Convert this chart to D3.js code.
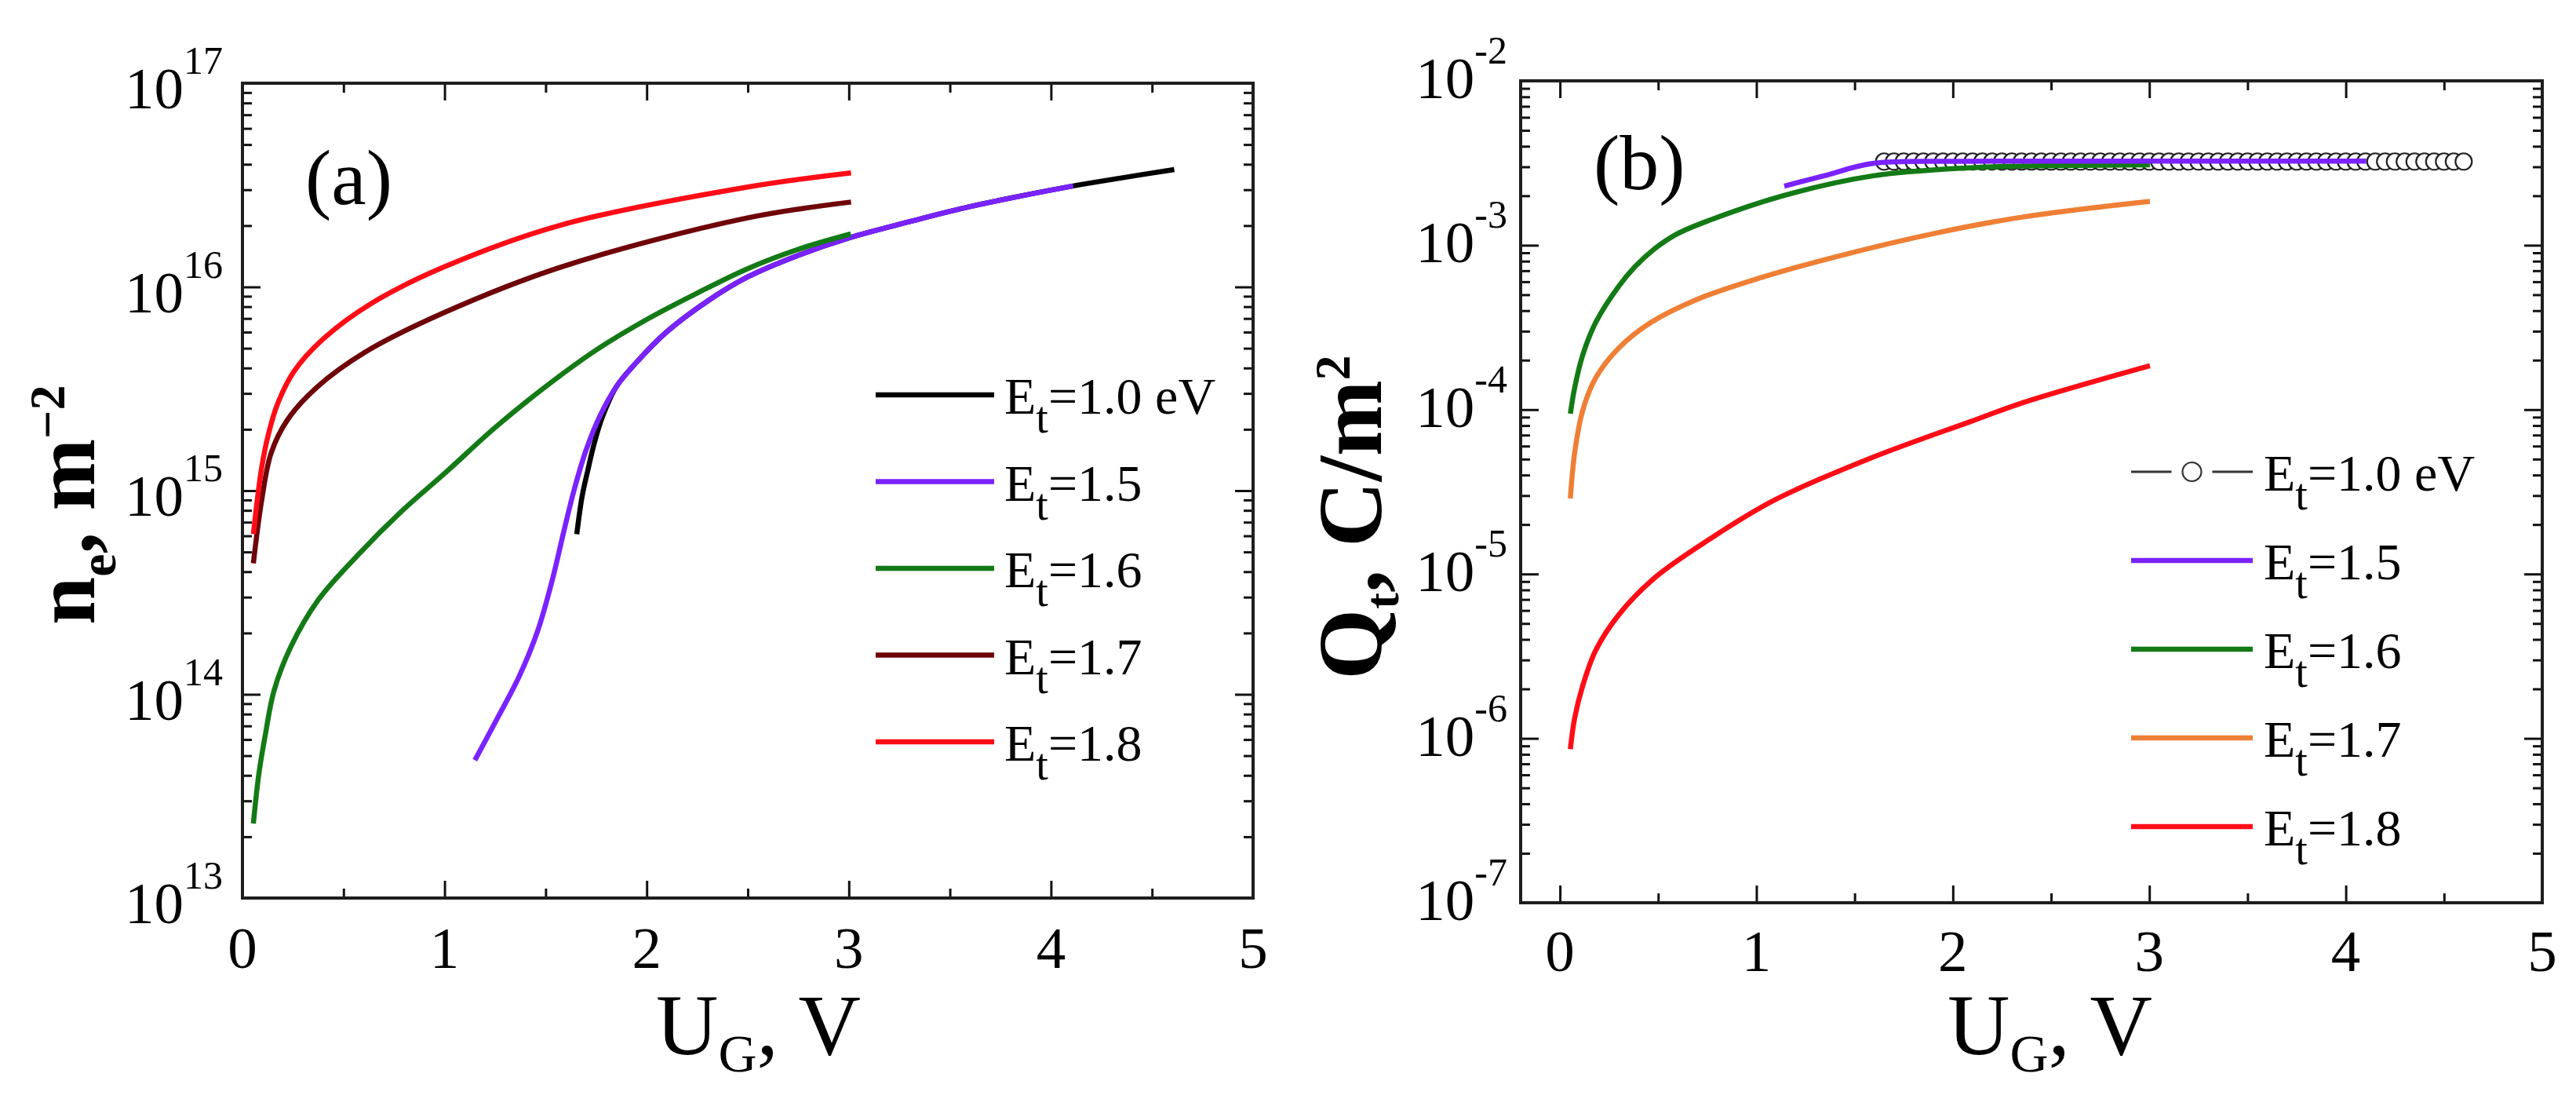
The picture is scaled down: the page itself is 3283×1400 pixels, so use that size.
<!DOCTYPE html>
<html>
<head>
<meta charset="utf-8">
<script src="https://cdn.jsdelivr.net/npm/d3@7"></script>
<style>
  html, body { margin: 0; padding: 0; background: #fff; }
  svg { display: block; font-family: "Liberation Serif", "Times New Roman", serif; }
</style>
</head>
<body>
<svg id="fig" width="3283" height="1400"></svg>
<script>
// ---- tick labels ----
const xTicks = [0, 1, 2, 3, 4, 5];
const xMinorTicks = [0.5, 1.5, 2.5, 3.5, 4.5];
const yExpA = [13, 14, 15, 16, 17];
const yExpB = [-7, -6, -5, -4, -3, -2];
const legendText = ["=1.0 eV", "=1.5", "=1.6", "=1.7", "=1.8"];

// ---- panel (a): n_e vs U_G ----
const ugA10 = [1.654, 1.68, 1.708, 1.74, 1.78, 1.85, 1.95, 2.1, 2.3, 2.5, 2.75, 3.0, 3.3, 3.6, 4.11, 4.35, 4.61];
const neA10 = [6.11e14, 9.33e14, 1.25e15, 1.70e15, 2.29e15, 3.24e15, 4.27e15, 6.03e15, 8.51e15, 1.12e16, 1.43e16, 1.74e16, 2.09e16, 2.48e16, 3.13e16, 3.43e16, 3.77e16];

const ugA15 = [1.15, 1.26, 1.37, 1.46, 1.53, 1.59, 1.64, 1.70, 1.77, 1.85, 1.95, 2.1, 2.3, 2.5, 2.75, 3.0, 3.3, 3.6, 4.11];
const neA15 = [4.75e13, 7.59e13, 1.23e14, 2.04e14, 3.55e14, 6.31e14, 1.0e15, 1.58e15, 2.34e15, 3.24e15, 4.27e15, 6.03e15, 8.51e15, 1.12e16, 1.43e16, 1.74e16, 2.09e16, 2.48e16, 3.13e16];

const ugA16 = [0.054, 0.081, 0.115, 0.156, 0.238, 0.373, 0.578, 0.782, 1.014, 1.25, 1.5, 1.75, 2.0, 2.25, 2.5, 2.75, 3.01];
const neA16 = [2.32e13, 4.06e13, 6.49e13, 1.04e14, 1.70e14, 2.89e14, 4.91e14, 7.83e14, 1.25e15, 2.04e15, 3.24e15, 4.90e15, 6.92e15, 9.33e15, 1.23e16, 1.53e16, 1.82e16];

const ugA17 = [0.054, 0.094, 0.142, 0.222, 0.367, 0.609, 0.995, 1.574, 2.488, 3.011];
const neA17 = [4.40e14, 8.83e14, 1.53e15, 2.22e15, 3.21e15, 4.80e15, 7.46e15, 1.25e16, 2.17e16, 2.61e16];

const ugA18 = [0.054, 0.094, 0.126, 0.174, 0.255, 0.40, 0.641, 0.995, 1.574, 2.488, 3.011];
const neA18 = [6.12e14, 1.28e15, 1.85e15, 2.67e15, 3.85e15, 5.56e15, 8.34e15, 1.25e16, 2.01e16, 3.08e16, 3.63e16];

// ---- panel (b): Q_t vs U_G ----
const ugB10 = [1.65, 1.70, 1.75, 1.80, 1.85, 1.90, 1.95, 2.00, 2.05, 2.10,
               2.15, 2.20, 2.25, 2.30, 2.35, 2.40, 2.45, 2.50, 2.55, 2.60,
               2.65, 2.70, 2.75, 2.80, 2.85, 2.90, 2.95, 3.00, 3.05, 3.10,
               3.15, 3.20, 3.25, 3.30, 3.35, 3.40, 3.45, 3.50, 3.55, 3.60,
               3.65, 3.70, 3.75, 3.80, 3.85, 3.90, 3.95, 4.00, 4.05, 4.10,
               4.15, 4.20, 4.25, 4.30, 4.35, 4.40, 4.45, 4.50, 4.55, 4.60];
const qtB10 = [3.23e-3, 3.23e-3, 3.23e-3, 3.23e-3, 3.23e-3, 3.23e-3, 3.23e-3, 3.23e-3, 3.23e-3, 3.23e-3,
               3.23e-3, 3.23e-3, 3.23e-3, 3.23e-3, 3.23e-3, 3.23e-3, 3.23e-3, 3.23e-3, 3.23e-3, 3.23e-3,
               3.23e-3, 3.23e-3, 3.23e-3, 3.23e-3, 3.23e-3, 3.23e-3, 3.23e-3, 3.23e-3, 3.23e-3, 3.23e-3,
               3.23e-3, 3.23e-3, 3.23e-3, 3.23e-3, 3.23e-3, 3.23e-3, 3.23e-3, 3.23e-3, 3.23e-3, 3.23e-3,
               3.23e-3, 3.23e-3, 3.23e-3, 3.23e-3, 3.23e-3, 3.23e-3, 3.23e-3, 3.23e-3, 3.23e-3, 3.23e-3,
               3.23e-3, 3.23e-3, 3.23e-3, 3.23e-3, 3.23e-3, 3.23e-3, 3.23e-3, 3.23e-3, 3.23e-3, 3.23e-3];

const ugB15 = [1.142, 1.341, 1.590, 2.0, 2.5, 3.0, 3.5, 4.104];
const qtB15 = [2.29e-3, 2.64e-3, 3.14e-3, 3.24e-3, 3.25e-3, 3.25e-3, 3.25e-3, 3.25e-3];

const ugB16 = [0.053, 0.075, 0.116, 0.182, 0.298, 0.381, 0.480, 0.595, 0.762, 1.142, 1.590, 2.086, 2.364, 3.003];
const qtB16 = [9.44e-5, 1.36e-4, 2.15e-4, 3.39e-4, 5.60e-4, 7.38e-4, 9.48e-4, 1.17e-3, 1.42e-3, 2.01e-3, 2.64e-3, 2.96e-3, 3.03e-3, 3.08e-3];

const ugB17 = [0.053, 0.075, 0.116, 0.182, 0.298, 0.463, 0.695, 1.010, 1.424, 1.920, 2.364, 3.003];
const qtB17 = [2.88e-5, 5.47e-5, 9.89e-5, 1.56e-4, 2.36e-4, 3.39e-4, 4.67e-4, 6.28e-4, 8.63e-4, 1.19e-3, 1.49e-3, 1.85e-3];

const ugB18 = [0.053, 0.075, 0.116, 0.182, 0.298, 0.480, 0.762, 1.093, 1.590, 2.086, 2.364, 3.003];
const qtB18 = [8.59e-7, 1.33e-6, 2.09e-6, 3.43e-6, 5.62e-6, 9.44e-6, 1.63e-5, 2.82e-5, 5.11e-5, 8.43e-5, 1.11e-4, 1.85e-4];

// colores
const cBlack = "#000000";
const cViolet = "#7a22ff";
const cGreen = "#137a16";
const cWine = "#6e0308";
const cRed = "#ff0d17";
const cOrange = "#ef7f35";

const svg = d3.select("#fig");

function drawPanel(p) {
  const g = svg.append("g");

  const x = d3.scaleLinear().domain(p.xDomain).range([p.left, p.right]);
  const y = d3.scaleLog().domain(p.yDomain).range([p.bottom, p.top]);

  const yMaj = p.exps.map(e => Math.pow(10, e));
  const yMin = [];
  p.exps.slice(0, -1).forEach(e => {
    for (let k = 2; k <= 9; k++) yMin.push(k * Math.pow(10, e));
  });

  const noLabel = () => "";
  const style = sel => {
    sel.select(".domain").remove();
    sel.selectAll("line").attr("stroke", "#111").attr("stroke-width", 3);
  };

  // ticks (inward) on all four sides
  [[xTicks, 22], [xMinorTicks, 12]].forEach(([vals, len]) => {
    g.append("g").attr("transform", `translate(0,${p.bottom})`)
      .call(d3.axisBottom(x).tickValues(vals).tickSize(-len).tickSizeOuter(0).tickFormat(noLabel)).call(style);
    g.append("g").attr("transform", `translate(0,${p.top})`)
      .call(d3.axisTop(x).tickValues(vals).tickSize(-len).tickSizeOuter(0).tickFormat(noLabel)).call(style);
  });
  [[yMaj, 23], [yMin, 12]].forEach(([vals, len]) => {
    g.append("g").attr("transform", `translate(${p.left},0)`)
      .call(d3.axisLeft(y).tickValues(vals).tickSize(-len).tickSizeOuter(0).tickFormat(noLabel)).call(style);
    g.append("g").attr("transform", `translate(${p.right},0)`)
      .call(d3.axisRight(y).tickValues(vals).tickSize(-len).tickSizeOuter(0).tickFormat(noLabel)).call(style);
  });

  // frame
  g.append("rect")
    .attr("x", p.left).attr("y", p.top)
    .attr("width", p.right - p.left).attr("height", p.bottom - p.top)
    .attr("fill", "none").attr("stroke", "#1e1e1e").attr("stroke-width", 4);

  // x tick labels
  g.selectAll(".xl").data(xTicks).enter().append("text")
    .attr("x", d => x(d)).attr("y", p.xLabelY)
    .attr("text-anchor", "middle").attr("font-size", 75).attr("fill", "#000")
    .text(d => d);

  // y tick labels 10^n
  p.exps.forEach(e => {
    const t = g.append("text")
      .attr("x", p.left - p.yLabelGap).attr("y", y(Math.pow(10, e)) + p.yLabelOff)
      .attr("text-anchor", "end").attr("fill", "#000");
    t.append("tspan").attr("font-size", 75).text("10");
    t.append("tspan").attr("font-size", 50).attr("dy", -44).text(e);
  });

  // curves
  const line = d3.line().x(d => x(d[0])).y(d => y(d[1])).curve(d3.curveCatmullRom.alpha(0.5));
  p.series.forEach(s => {
    const pts = s.u.map((u, i) => [u, s.v[i]]);
    if (s.marker) {
      g.append("path").attr("d", line(pts)).attr("fill", "none")
        .attr("stroke", "#222").attr("stroke-width", 2);
      g.selectAll(null).data(pts).enter().append("circle")
        .attr("cx", d => x(d[0])).attr("cy", d => y(d[1])).attr("r", 10.5)
        .attr("fill", "#fff").attr("stroke", "#222").attr("stroke-width", 2.2);
    } else {
      g.append("path").attr("d", line(pts)).attr("fill", "none")
        .attr("stroke", s.color).attr("stroke-width", 6.5);
    }
  });

  // legend
  p.legend.forEach((s, i) => {
    const ly = p.leg.y + i * p.leg.dy;
    if (s.marker) {
      const cx = (p.leg.x1 + p.leg.x2) / 2;
      [[p.leg.x1, cx - 26], [cx + 26, p.leg.x2]].forEach(([a, b]) => {
        g.append("line").attr("x1", a).attr("x2", b).attr("y1", ly).attr("y2", ly)
          .attr("stroke", "#333").attr("stroke-width", 3);
      });
      g.append("circle").attr("cx", cx).attr("cy", ly).attr("r", 12)
        .attr("fill", "#fff").attr("stroke", "#333").attr("stroke-width", 2.2);
    } else {
      g.append("line").attr("x1", p.leg.x1).attr("x2", p.leg.x2).attr("y1", ly).attr("y2", ly)
        .attr("stroke", s.color).attr("stroke-width", 6.5);
    }
    const t = g.append("text").attr("x", p.leg.tx).attr("y", ly + 24).attr("fill", "#000");
    t.append("tspan").attr("font-size", 66).text("E");
    t.append("tspan").attr("font-size", 56).attr("dy", 24).text("t");
    t.append("tspan").attr("font-size", 66).attr("dy", -24).text(legendText[i]);
  });

  // panel tag
  g.append("text").attr("x", p.tag.x).attr("y", p.tag.y)
    .attr("font-size", 100).attr("fill", "#000").text(p.tag.text);

  // x axis title
  const xt = g.append("text").attr("x", p.xTitle.x).attr("y", 1343).attr("fill", "#000");
  xt.append("tspan").attr("font-size", 110).text("U");
  xt.append("tspan").attr("font-size", 68).attr("dy", 22).text("G");
  xt.append("tspan").attr("font-size", 110).attr("dy", -22).text(", V");

  // y axis title
  const yt = g.append("text")
    .attr("transform", `translate(${p.yTitle.x},${p.yTitle.y}) rotate(-90)`)
    .attr("font-weight", "bold").attr("fill", "#000");
  p.yTitle.parts.forEach(part => {
    yt.append("tspan").attr("font-size", part.size).attr("dy", part.dy || 0).text(part.text);
  });
}

// ---- panel (a) ----
const seriesA = [
  { u: ugA10, v: neA10, color: cBlack },
  { u: ugA15, v: neA15, color: cViolet },
  { u: ugA16, v: neA16, color: cGreen },
  { u: ugA17, v: neA17, color: cWine },
  { u: ugA18, v: neA18, color: cRed }
];
drawPanel({
  left: 309, right: 1597, top: 106, bottom: 1144,
  xDomain: [0, 5], yDomain: [1e13, 1e17], exps: yExpA,
  xLabelY: 1233, yLabelGap: 25, yLabelOff: 32,
  series: seriesA, legend: seriesA,
  leg: { x1: 1116, x2: 1267, tx: 1280, y: 503, dy: 110.5 },
  tag: { x: 389, y: 260, text: "(a)" },
  xTitle: { x: 836 },
  yTitle: { x: 120, y: 796, parts: [
    { text: "n", size: 110 },
    { text: "e", size: 66, dy: 27 },
    { text: ", m", size: 110, dy: -27 },
    { text: "\u22122", size: 64, dy: -38 }
  ] }
});

// ---- panel (b) ----
const b10 = { u: ugB10, v: qtB10, color: cBlack, marker: true };
const b15 = { u: ugB15, v: qtB15, color: cViolet };
const b16 = { u: ugB16, v: qtB16, color: cGreen };
const b17 = { u: ugB17, v: qtB17, color: cOrange };
const b18 = { u: ugB18, v: qtB18, color: cRed };
drawPanel({
  left: 1938, right: 3240, top: 103, bottom: 1150,
  xDomain: [-0.2, 5], yDomain: [1e-7, 1e-2], exps: yExpB,
  xLabelY: 1237, yLabelGap: 17, yLabelOff: 22,
  series: [b10, b17, b18, b16, b15], legend: [b10, b15, b16, b17, b18],
  leg: { x1: 2716, x2: 2871, tx: 2885, y: 601, dy: 113 },
  tag: { x: 2031, y: 241, text: "(b)" },
  xTitle: { x: 2482 },
  yTitle: { x: 1760, y: 866, parts: [
    { text: "Q", size: 116 },
    { text: "t", size: 62, dy: 22 },
    { text: ", C/m", size: 116, dy: -22 },
    { text: "2", size: 64, dy: -40 }
  ] }
});
</script>
</body>
</html>
